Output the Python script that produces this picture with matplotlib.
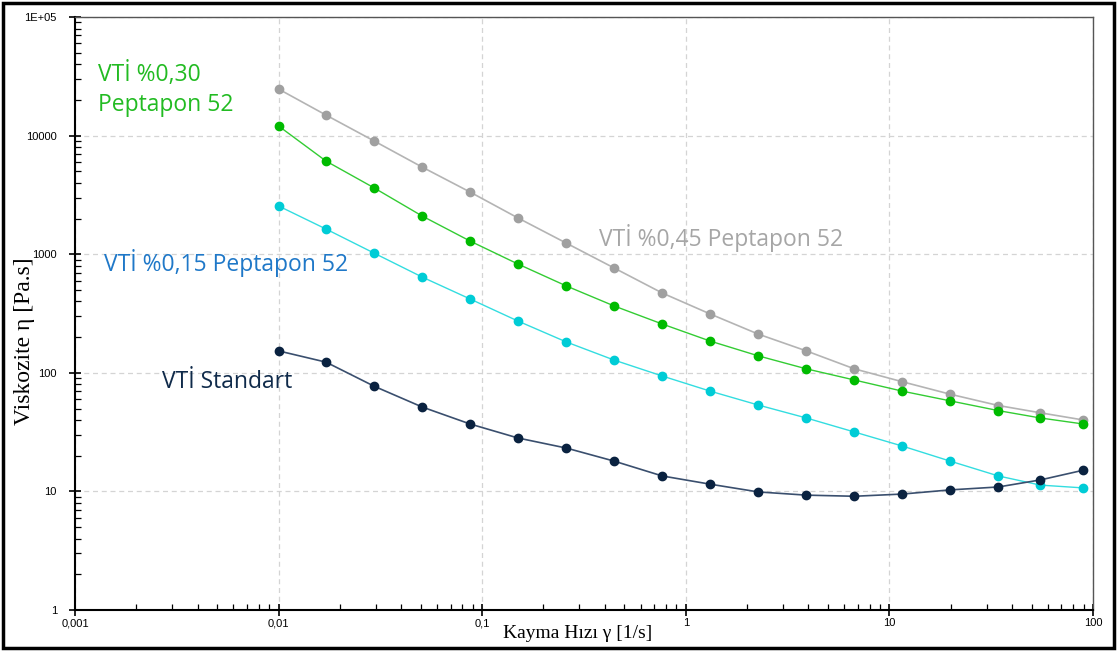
import matplotlib.pyplot as plt
from matplotlib.ticker import LogLocator, FixedLocator, FixedFormatter, NullFormatter
from matplotlib.patches import Rectangle

# shear rate [1/s]
shear = [0.01, 0.0171, 0.0295, 0.0507, 0.0873, 0.150, 0.259, 0.445, 0.766,
         1.32, 2.27, 3.91, 6.73, 11.6, 19.9, 34.3, 55.2, 89.8]

# viscosity [Pa.s]
vti_045 = [24700, 14900, 9000, 5430, 3340, 2020, 1240, 765, 471,
           313, 212, 153, 108, 84, 66, 53, 46, 40]
vti_030 = [12050, 6100, 3620, 2100, 1290, 826, 540, 366, 258,
           185, 139, 108, 87, 70, 58, 48, 41.6, 37]
vti_015 = [2550, 1630, 1020, 642, 419, 273, 182, 128, 94,
           70, 53.5, 41.6, 31.7, 24.1, 18.0, 13.5, 11.3, 10.7]
vti_std = [153, 123, 77, 51.5, 37, 28.2, 23.2, 18, 13.5,
           11.5, 9.9, 9.3, 9.1, 9.5, 10.3, 10.9, 12.5, 15.1]

x_ticks = [0.001, 0.01, 0.1, 1, 10, 100]
x_labels = ["0,001", "0,01", "0,1", "1", "10", "100"]
y_ticks = [1, 10, 100, 1000, 10000, 100000]
y_labels = ["1", "10", "100", "1000", "10000", "1E+05"]

fig = plt.figure(figsize=(11.18, 6.55), dpi=100)
ax = fig.add_axes([0.0671, 0.0687, 0.9105, 0.9053])

ax.plot(shear, vti_045, color='#b4b4b4', lw=1.2, marker='o', ms=6,
        mfc='#a0a0a0', mec='#a0a0a0', zorder=3)
ax.plot(shear, vti_030, color='#33cc33', lw=1.0, marker='o', ms=6,
        mfc='#00bb00', mec='#00bb00', zorder=3)
ax.plot(shear, vti_015, color='#33dde0', lw=1.0, marker='o', ms=6,
        mfc='#00ccd6', mec='#00ccd6', zorder=3)
ax.plot(shear, vti_std, color='#3a4f6e', lw=1.2, marker='o', ms=6,
        mfc='#0a2240', mec='#0a2240', zorder=4)

ax.set_xscale('log')
ax.set_yscale('log')
ax.set_xlim(0.001, 100)
ax.set_ylim(1, 100000)

ax.xaxis.set_major_locator(FixedLocator(x_ticks))
ax.xaxis.set_major_formatter(FixedFormatter(x_labels))
ax.yaxis.set_major_locator(FixedLocator(y_ticks))
ax.yaxis.set_major_formatter(FixedFormatter(y_labels))
ax.xaxis.set_minor_locator(LogLocator(base=10, subs=range(2, 10), numticks=20))
ax.yaxis.set_minor_locator(LogLocator(base=10, subs=range(2, 10), numticks=20))
ax.xaxis.set_minor_formatter(NullFormatter())
ax.yaxis.set_minor_formatter(NullFormatter())

ax.tick_params(which='major', direction='inout', length=8, width=1.2,
               labelsize=8, top=False, right=False)
ax.tick_params(axis='x', which='major', pad=2)
ax.tick_params(axis='y', which='major', pad=9)
ax.tick_params(which='minor', direction='in', length=4, width=0.9,
               top=False, right=False)
for lab in ax.get_xticklabels() + ax.get_yticklabels():
    lab.set_family('Liberation Sans')

for side in ['left', 'bottom']:
    ax.spines[side].set_linewidth(1.5)
for side in ['top', 'right']:
    ax.spines[side].set_linewidth(1.0)
    ax.spines[side].set_color('#555555')

ax.grid(True, which='major', linestyle=(0, (4, 3)), color='#d4d4d4', lw=0.9)
ax.set_axisbelow(True)

# axis titles placed by hand, as in the original layout
fig.text(578 / 1118, 1 - 633 / 655, 'Kayma Hızı γ [1/s]', family='Liberation Serif',
         fontsize=14, ha='center', va='center')
fig.text(25 / 1118, 1 - 341 / 655, 'Viskozite η [Pa.s]', family='Liberation Serif',
         fontsize=17, ha='center', va='center', rotation=90)

txt = dict(family='Open Sans', fontsize=16.5, transform=ax.transAxes)
ax.text(0.023, 0.925, 'VTİ %0,30\nPeptapon 52', color='#22bb22', va='top',
        linespacing=1.38, **txt)
ax.text(0.515, 0.628, 'VTİ %0,45 Peptapon 52', color='#a6a6a6', va='center', **txt)
ax.text(0.028, 0.585, 'VTİ %0,15 Peptapon 52', color='#1f78c8', va='center', **txt)
ax.text(0.085, 0.385, 'VTİ Standart', color='#0f2a4a', va='center', **txt)

fig.patches.append(Rectangle((0.003, 0.01), 0.993, 0.985, transform=fig.transFigure,
                             fill=False, edgecolor='black', lw=2.5))

fig.savefig('out.png', dpi=100)
